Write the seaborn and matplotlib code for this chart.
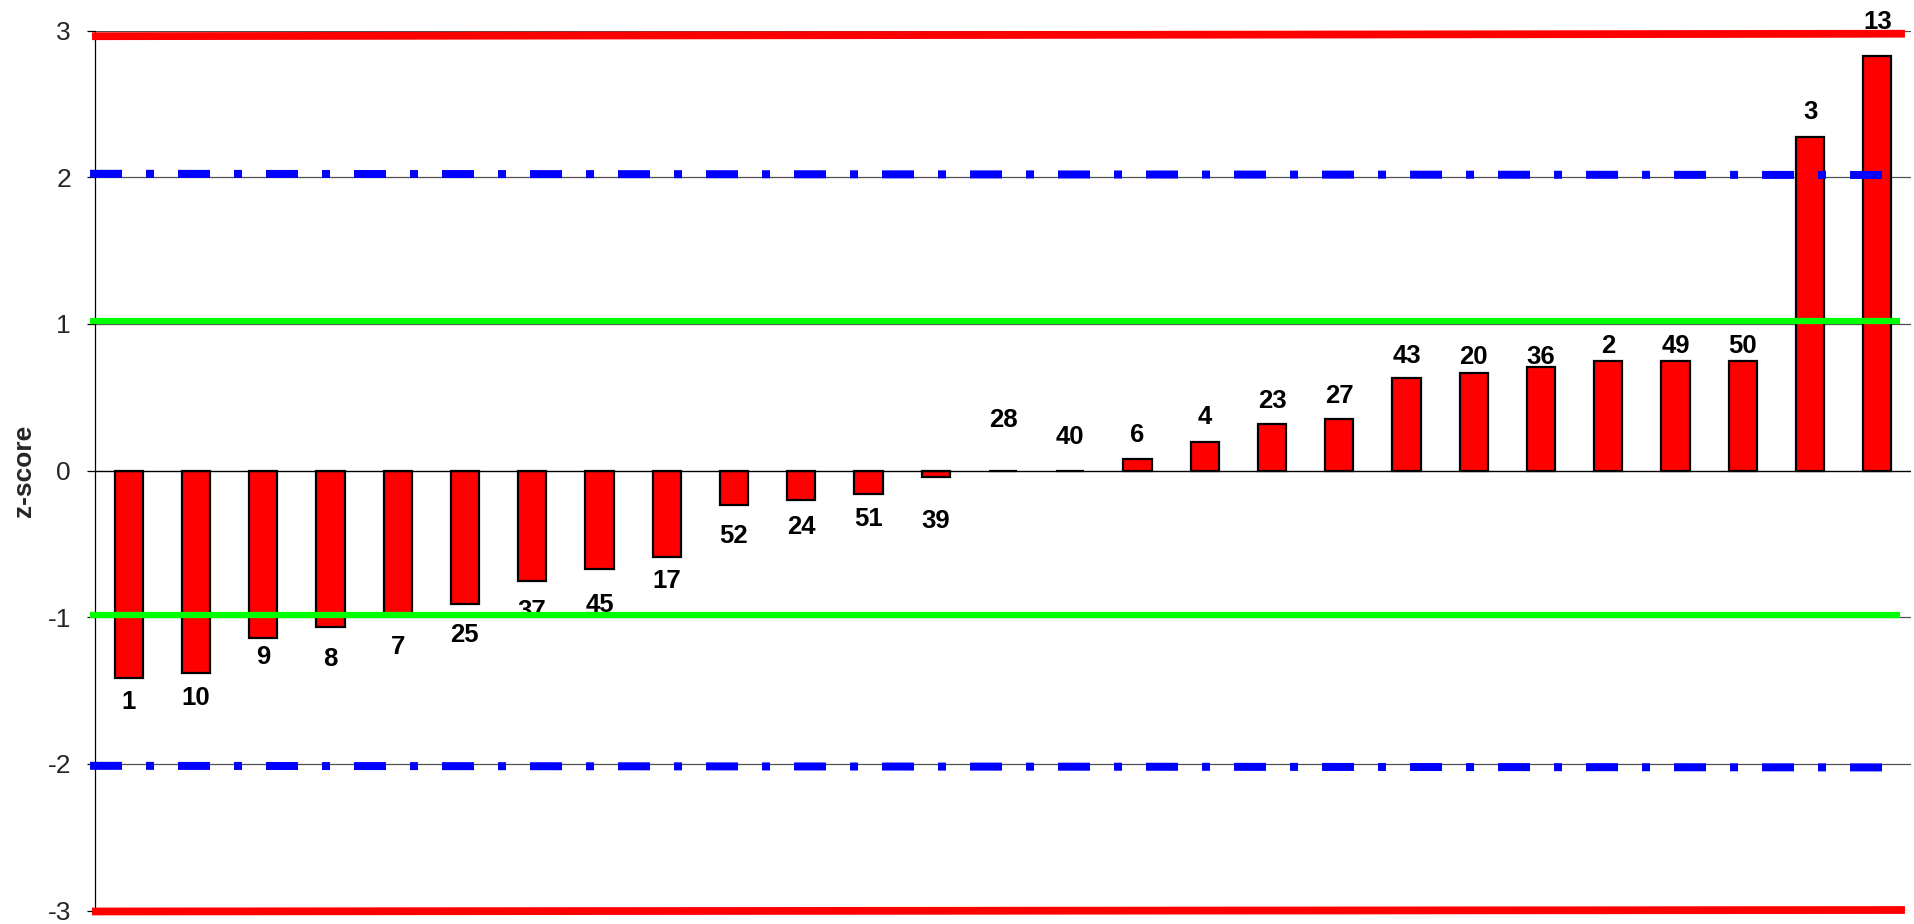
import numpy as np
import pandas as pd
import matplotlib
matplotlib.use("Agg")
import matplotlib.pyplot as plt
import seaborn as sns


# --------------------------------------
# DATA
# --------------------------------------

samples = [
    "1", "10", "9", "8", "7", "25", "37", "45", "17", "52", "24", "51", "39",
    "28", "40", "6", "4", "23", "27", "43", "20", "36", "2", "49", "50", "3", "13",
]

z_scores = [
    -1.415, -1.378, -1.142, -1.064, -0.975, -0.907, -0.750, -0.671, -0.591,
    -0.237, -0.200, -0.159, -0.041, 0.0, 0.0, 0.082, 0.195, 0.314, 0.352,
    0.628, 0.666, 0.707, 0.746, 0.746, 0.746, 2.276, 2.826,
]

# distance (px) of each label centre from the end of its bar
label_gap = [
    21, 23, 16, 30, 31, 29, 28, 34, 21, 28, 25, 23, 42,
    53, 36, 26, 27, 26, 25, 25, 18, 12, 18, 18, 18, 27, 37,
]

# limit lines, value at left end / right end
limit_3sd = [[2.961, 2.978], [-3.006, -2.996]]
limit_2sd = [[2.023, 2.015], [-2.013, -2.024]]
limit_1sd = [[1.021, 1.021], [-0.985, -0.985]]

y_ticks = [-3, -2, -1, 0, 1, 2, 3]


# --------------------------------------
# FIGURE
# --------------------------------------

sns.set_style("white")
plt.rcParams["font.family"] = ["Liberation Sans", "DejaVu Sans"]

W, H = 1914, 924
fig = plt.figure(figsize=(W / 100, H / 100), dpi=100)
ax = fig.add_axes([95 / W, 1 - 910.6 / H, 1816 / W, (910.6 - 30.5) / H])

df = pd.DataFrame({"sample": samples, "z": z_scores})

# grid lines
for t in y_ticks:
    if t != 0:
        ax.axhline(t, color="#505050", linewidth=0.9, zorder=0)
ax.axhline(0, color="black", linewidth=1.0, zorder=2.5)

sns.barplot(
    data=df,
    x="sample",
    y="z",
    order=samples,
    color="#FF0000",
    saturation=1,
    edgecolor="black",
    linewidth=1.6,
    width=0.42,
    errorbar=None,
    ax=ax,
    zorder=2,
)

# data labels
for i, (name, v, gap) in enumerate(zip(samples, z_scores, label_gap)):
    sign = 1 if v >= 0 else -1
    ax.annotate(
        name,
        xy=(i, v),
        xytext=(0, sign * gap * 0.72),
        textcoords="offset points",
        ha="center",
        va="center_baseline",
        fontsize=18.5,
        fontweight="bold",
        color="black",
        zorder=3,
        annotation_clip=False,
    )

# limit lines
for vals in limit_3sd:
    ax.plot([-0.545, 26.41], vals, color="#FF0000", linewidth=5.6,
            solid_capstyle="butt", zorder=4, clip_on=False)

for vals in limit_2sd:
    ax.plot([-0.574, 26.27], vals, color="#0000FF", linewidth=5.76,
            dashes=(4, 3, 1, 3), dash_capstyle="butt", zorder=4, clip_on=False)

for vals in limit_1sd:
    ax.plot([-0.57, 26.34], vals, color="#00FF00", linewidth=4.5,
            solid_capstyle="butt", zorder=4, clip_on=False)

ax.set_xlim(-0.5, 26.5)
ax.set_ylim(-3, 3)
ax.set_xticks([])
ax.set_xlabel("")
ax.set_yticks(y_ticks)
ax.set_yticklabels([str(t) for t in y_ticks])
ax.tick_params(axis="y", direction="out", length=5.76, width=0.9,
               color="black", labelsize=19, pad=11.5, left=True)

for side in ["top", "right", "bottom"]:
    ax.spines[side].set_visible(False)
ax.spines["left"].set_color("black")
ax.spines["left"].set_linewidth(0.9)

ax.set_ylabel("z-score", fontsize=19, fontweight="bold")
ax.yaxis.label.set_va("center")
ax.yaxis.set_label_coords((24 - 95) / 1816, 0.5)

fig.savefig("out.png", dpi=100, facecolor="white")
